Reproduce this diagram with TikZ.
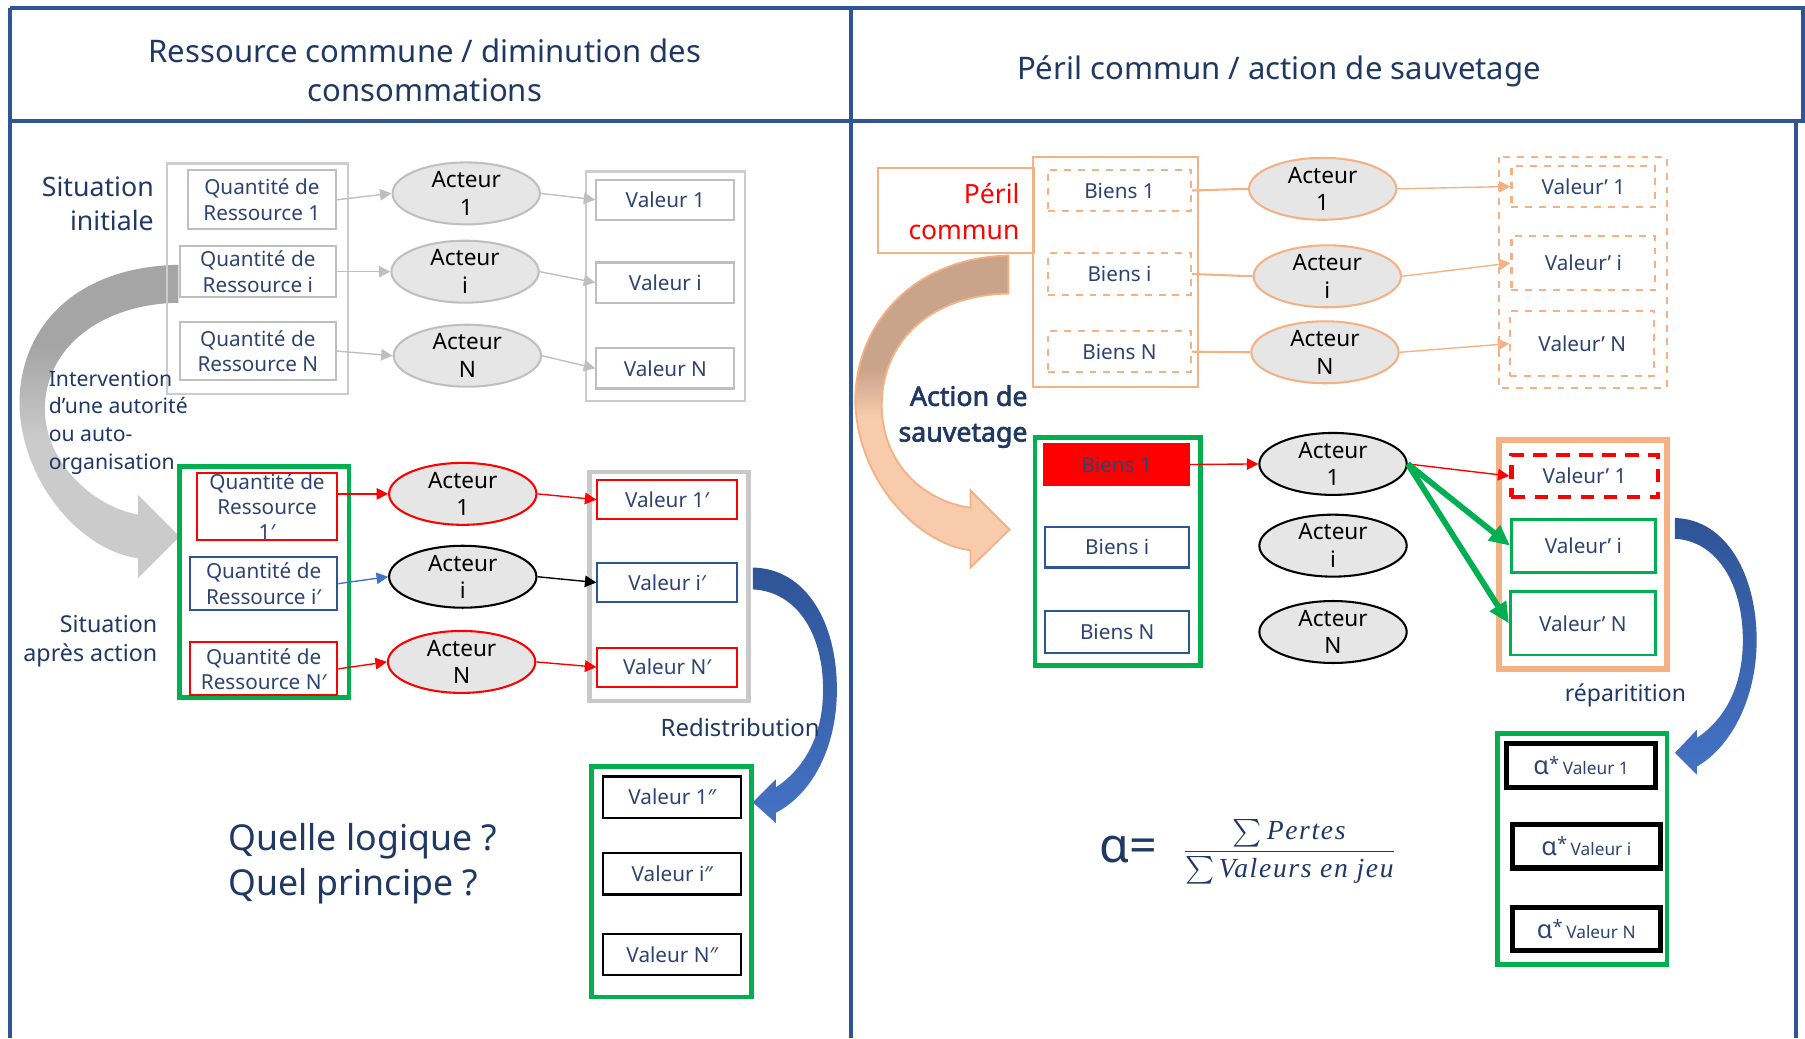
\documentclass[tikz,border=0pt]{standalone}
\usepackage{fontspec}
\usepackage{amsmath}
\setmainfont{Noto Sans}
\newfontfamily\grasfont[FakeBold=2.5]{Noto Sans}
\newfontfamily\fracfont[LetterSpace=6]{Liberation Serif}
\usetikzlibrary{%
	calc,%
	arrows.meta,%
	shapes.geometric%
}
\definecolor{frameblue}{HTML}{2F5597}
\definecolor{lightblue}{HTML}{4472C4}
\definecolor{navy}{HTML}{1F3864}
\definecolor{boxtext}{HTML}{2E4470}
\definecolor{okgreen}{HTML}{00B050}
\definecolor{peach}{HTML}{F4B183}
\definecolor{peachlight}{HTML}{F8CBAD}
\definecolor{tan}{HTML}{C9A38A}
\definecolor{boxgray}{HTML}{BFBFBF}
\definecolor{darkgray}{HTML}{A5A5A5}
\definecolor{lightgray}{HTML}{CBCBCB}
\definecolor{ellfill}{HTML}{E7E6E6}
\pgfdeclareverticalshading{grayband}{100bp}{color(0bp)=(lightgray); color(47bp)=(lightgray); color(62bp)=(darkgray); color(100bp)=(darkgray)}
\pgfdeclareverticalshading{tanband}{100bp}{color(0bp)=(peachlight); color(49bp)=(peachlight); color(57bp)=(tan); color(100bp)=(tan)}
\tikzstyle{cadre}=[draw=frameblue, line width=1.8pt]
\tikzstyle{box}=[draw, rectangle, inner sep=0pt, align=center, text=boxtext, line width=0.9pt, font=\fontsize{9}{11}\selectfont]
\tikzstyle{acteur}=[ellipse, draw, fill=ellfill, minimum width=64pt, minimum height=23pt, inner sep=0pt, align=center, line width=0.9pt, font=\fontsize{9.8}{12}\selectfont]
\tikzstyle{link}=[draw, line width=0.6pt, -{Triangle[length=5pt,width=5pt]}]
\tikzstyle{titre}=[align=center, text=navy, font=\fontsize{13.5}{17}\selectfont]
\tikzstyle{legende}=[text=navy, inner sep=0pt]

\begin{document}
\begin{tikzpicture}[x=0.5pt, y=-0.5pt]
	\useasboundingbox (0,0) rectangle (1568,902);

	% Frame and headers
	\draw[cadre] (9,7) -- (1566,7) -- (1566,105);
	\draw[cadre] (9,105) -- (1568,105);
	\draw[cadre] (9,7) -- (9,902);
	\draw[cadre] (739,7) -- (739,902);
	\draw[cadre] (1560,105) -- (1560,902);
	\node[titre] (t1) at (369,61) {Ressource commune / diminution des\\consommations};
	\node[titre] (t2) at (1111,62) {Péril commun / action de sauvetage};

	% Curved arrows
	\shade[shading=grayband] (155,230) .. controls (60,232) and (15,290) .. (17,354)
		.. controls (20,420) and (70,478) .. (120,485) -- (120,502) -- (156,466) -- (120,430) -- (120,447)
		.. controls (80,440) and (38,400) .. (39,354) .. controls (40,300) and (90,264) .. (155,263) -- cycle;
	\shadedraw[shading=tanband, draw=peach, line width=0.8pt] (876,222) .. controls (790,224) and (742,285) .. (743,350)
		.. controls (745,415) and (795,472) .. (843,478) -- (843,493) -- (877,460) -- (843,426) -- (843,441)
		.. controls (800,435) and (765,400) .. (766,350) .. controls (767,295) and (810,256) .. (876,255) -- cycle;
	\shade[top color=frameblue, bottom color=lightblue] (654,493) .. controls (700,494) and (727,540) .. (727,599)
		.. controls (727,650) and (705,690) .. (674,706) -- (674,715) -- (654,697) -- (674,677) -- (674,684)
		.. controls (698,668) and (715,640) .. (715,599) .. controls (715,550) and (692,514) .. (654,512) -- cycle;
	\shade[top color=frameblue, bottom color=lightblue] (1455,450) .. controls (1500,451) and (1526,500) .. (1526,556)
		.. controls (1526,605) and (1505,648) .. (1474,666) -- (1474,673) -- (1455,654) -- (1474,634) -- (1474,641)
		.. controls (1497,626) and (1514,598) .. (1514,556) .. controls (1514,508) and (1492,470) .. (1455,468) -- cycle;

	% Left: situation initiale
	\node[legende, anchor=east, align=right, font=\fontsize{11.6}{14.5}\selectfont] (si) at (134,177) {Situation\\initiale};
	\draw[boxgray!80, line width=0.9pt] (145,142) rectangle (302,342);
	\draw[boxgray!80, line width=0.9pt] (509,149) rectangle (647,348);
	\node[box, draw=boxgray, minimum width=64.5pt, minimum height=25.5pt] (q1) at (227.5,173.5) {Quantité de\\Ressource 1};
	\node[box, draw=boxgray, minimum width=68pt, minimum height=22pt] (qi) at (224,236) {Quantité de\\Ressource i};
	\node[box, draw=boxgray, minimum width=68pt, minimum height=25pt] (qN) at (224,305) {Quantité de\\Ressource N};
	\foreach \k/\x/\y in {1/405/168, i/404/236, N/406/309}
		\node[acteur, draw=boxgray] (a\k) at (\x,\y) {Acteur\\\k};
	\foreach \k/\y in {1/173.5, i/245.5, N/320}
		\node[box, draw=boxgray, minimum width=60pt, minimum height=17.5pt] (v\k) at (578,\y) {Valeur \k};
	\foreach \k in {1,i,N} {
		\draw[link, draw=boxgray] (q\k.east) -- (a\k.west);
		\draw[link, draw=boxgray] (a\k.east) -- (v\k.west);
	}
	\node[legende, anchor=west, align=left, font=\fontsize{9.2}{12}\selectfont] (interv) at (42,367) {Intervention\\d’une autorité\\ou auto-\\organisation};

	% Left: situation apres action
	\node[legende, anchor=east, align=right, font=\fontsize{10.1}{13}\selectfont] (sa) at (137,557) {Situation\\après action};
	\draw[okgreen, line width=2pt] (156,405) rectangle (303,606);
	\draw[boxgray!85, line width=2pt] (512,410) rectangle (650,609);
	\node[box, draw=red, minimum width=61pt, minimum height=28pt] (q1p) at (232,440) {Quantité de\\Ressource\\1′};
	\node[box, draw=frameblue, minimum width=64pt, minimum height=23pt] (qip) at (229,507) {Quantité de\\Ressource i′};
	\node[box, draw=red, minimum width=64pt, minimum height=23pt] (qNp) at (229,581) {Quantité de\\Ressource N′};
	\node[acteur, draw=red] (a1p) at (402,429) {Acteur\\1};
	\node[acteur, draw=black] (aip) at (402,501) {Acteur\\i};
	\node[acteur, draw=red] (aNp) at (401,575) {Acteur\\N};
	\node[box, draw=red, minimum width=60.5pt, minimum height=17pt] (v1p) at (579.5,434) {Valeur 1′};
	\node[box, draw=frameblue, minimum width=60.5pt, minimum height=17pt] (vip) at (579.5,506) {Valeur i′};
	\node[box, draw=red, minimum width=60.5pt, minimum height=17pt] (vNp) at (579.5,579.5) {Valeur N′};
	\draw[link, draw=red] (q1p.east |- a1p.west) -- (a1p.west);
	\draw[link, draw=lightblue] (qip.east) -- (aip.west);
	\draw[link, draw=red] (qNp.east) -- (aNp.west);
	\draw[link, draw=red] (a1p.east) -- (v1p.west);
	\draw[link, draw=black] (aip.east) -- (vip.west);
	\draw[link, draw=red] (aNp.east) -- (vNp.west);
	\node[legende, font=\fontsize{10.4}{12}\selectfont] (redis) at (643,632) {Redistribution};

	% Left: redistribution
	\draw[okgreen, line width=2pt] (514,666) rectangle (653,866);
	\foreach \k/\y in {1/692.5, i/759, N/829}
		\node[box, draw=black, minimum width=60pt, minimum height=18pt] (w\k) at (584,\y) {Valeur \k″};
	\node[legende, anchor=west, align=left, font=\fontsize{15.5}{19.5}\selectfont] (quel) at (198,750) {Quelle logique ?\\Quel principe ?};

	% Right: peril commun
	\draw[peach, line width=0.9pt] (763,146) rectangle (898,220);
	\node[legende, anchor=east, align=right, text=red, font=\fontsize{11.5}{15.5}\selectfont] (peril) at (886,184) {Péril\\commun};
	\draw[peach, line width=0.9pt] (897,136) rectangle (1041,336);
	\draw[peach, line width=0.9pt, dashed] (1302,136) rectangle (1448,337);
	\foreach \k/\y in {1/165.5, i/238, N/305.5}
		\node[box, draw=peach, dashed, minimum width=62pt, minimum height=18pt] (b\k) at (972.5,\y) {Biens \k};
	\foreach \k/\x/\y in {1/1149/164, i/1153/240, N/1151/306}
		\node[acteur, draw=peach] (c\k) at (\x,\y) {Acteur\\\k};
	\node[box, draw=peach, dashed, minimum width=62.5pt, minimum height=18pt] (vp1) at (1375.5,162) {Valeur’ 1};
	\node[box, draw=peach, dashed, minimum width=62.5pt, minimum height=23.5pt] (vpi) at (1375.5,228.5) {Valeur’ i};
	\node[box, draw=peach, dashed, minimum width=62.5pt, minimum height=28.5pt] (vpN) at (1374.5,298.5) {Valeur’ N};
	\foreach \k in {1,i,N} {
		\draw[peach, line width=0.9pt] (b\k.east) -- (c\k.west);
		\draw[link, draw=peach] (c\k.east) -- (vp\k.west);
	}

	% Right: action de sauvetage
	\node[legende, anchor=east, align=right, font=\grasfont\fontsize{11.6}{15.5}\selectfont] (action) at (893,362) {Action de\\sauvetage};
	\draw[okgreen, line width=2pt] (899,380) rectangle (1043,578);
	\draw[peach, line width=2.5pt] (1302,382) rectangle (1448,581);
	\node[box, draw=red, fill=red, minimum width=63pt, minimum height=17.5pt] (rb1) at (970,403.5) {Biens 1};
	\node[box, draw=frameblue, minimum width=62.5pt, minimum height=17.5pt] (rbi) at (970.5,475.5) {Biens i};
	\node[box, draw=frameblue, minimum width=62.5pt, minimum height=18pt] (rbN) at (970.5,549) {Biens N};
	\foreach \k/\y in {1/403, i/474, N/549}
		\node[acteur, draw=black] (d\k) at (1158,\y) {Acteur\\\k};
	\node[box, draw=red, line width=1.8pt, dash pattern=on 6pt off 4pt, minimum width=63.5pt, minimum height=18.5pt] (rv1) at (1376.5,413.5) {Valeur’ 1};
	\node[box, draw=okgreen, line width=1.2pt, minimum width=62.5pt, minimum height=23pt] (rvi) at (1375.5,474) {Valeur’ i};
	\node[box, draw=okgreen, line width=1.2pt, minimum width=63pt, minimum height=27.5pt] (rvN) at (1375,541.5) {Valeur’ N};
	\draw[link, draw=red] (rb1.east) -- (d1.west);
	\draw[link, draw=red] (d1.east) -- (rv1.west);
	\draw[draw=okgreen, line width=2.5pt, -{Triangle[length=9pt,width=8pt]}] (d1.east) -- (rvi.west);
	\draw[draw=okgreen, line width=2.5pt, -{Triangle[length=9pt,width=8pt]}] (d1.east) -- (rvN.west);
	\node[legende, font=\fontsize{10}{12}\selectfont] (repart) at (1412,604) {réparitition};

	% Right: alpha
	\draw[okgreen, line width=2pt] (1301,637) rectangle (1448,838);
	\foreach \k/\x/\y in {1/1373.5/665, i/1378/735, N/1378/807}
		\node[box, draw=black, line width=2.2pt, minimum width=64.5pt, minimum height=19pt] (x\k) at (\x,\y)
			{{\fontsize{11}{12}\selectfont α\raisebox{0.35ex}{\fontsize{8}{9}\selectfont *}}\,{\fontsize{7.5}{9}\selectfont Valeur \k}};
	\node[legende, font=\fontsize{21}{24}\selectfont] (alpha) at (980,738) {α=};
	\node[legende, font=\fontsize{12}{14}\selectfont] (frac) at (1120,740)
		{$\dfrac{\sum\text{\fracfont\itshape Pertes}}{\sum\text{\fracfont\itshape Valeurs en jeu}}$};
\end{tikzpicture}
\end{document}
